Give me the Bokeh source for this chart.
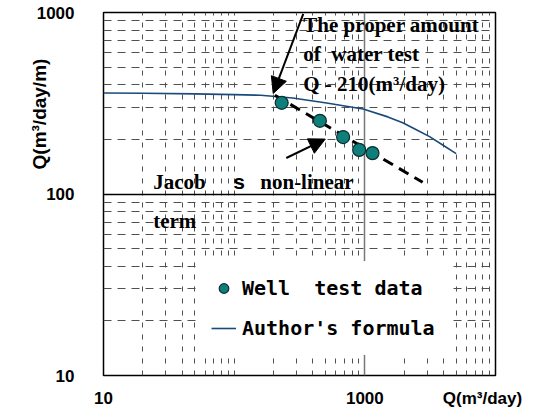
import math
from bokeh.plotting import figure
from bokeh.models import (FixedTicker, Grid, Label, Arrow, NormalHead, Legend,
                          LegendItem, NumeralTickFormatter, LogAxis)
from bokeh.embed import file_html
from bokeh.resources import INLINE

# ---- data ----
well_q = [231, 453, 682, 905, 1145]          # Q (m3/day)
well_sq = [318, 253, 206, 175, 168]          # Q/s (m3/day/m)
author_q = [10, 20, 50, 100, 160, 280, 510, 970, 1500, 1950, 2500, 3130, 4000, 5000]
author_sq = [360, 359, 356, 353, 350, 338, 317, 294, 266, 247, 225, 207, 185, 167]
jacob_q = [205, 2770]
jacob_sq = [350, 116]
x_tick_values = [10, 1000]
y_tick_values = [10, 100, 1000]
minor_x = [m * 10 ** e for e in (1, 2, 3) for m in range(2, 10)] + [100]
minor_y = [m * 10 ** e for e in (1, 2) for m in range(2, 10)]
x_title = "Q(m³/day)"
y_title = "Q(m³/day/m)"

p = figure(width=532, height=410, x_axis_type="log", y_axis_type="log",
           x_range=(10, 10000), y_range=(10, 1000),
           output_backend="svg", toolbar_location=None,
           min_border_left=103, min_border_right=37, min_border_top=12,
           min_border_bottom=33)
p.background_fill_color = "white"
p.border_fill_color = "white"
p.outline_line_color = "black"
p.outline_line_width = 1.5
p.outline_line_alpha = 1

# x axis: tick labels plus the axis title placed at the right end
x_title_pos = 7955
p.xaxis.ticker = FixedTicker(ticks=x_tick_values + [x_title_pos])
p.xaxis.major_label_overrides = {x_title_pos: x_title}
p.yaxis.ticker = FixedTicker(ticks=y_tick_values)

# y axis title: second left axis holding one rotated label near the top
y_title_pos = 557
ytitle_axis = LogAxis(ticker=FixedTicker(ticks=[y_title_pos]),
                      major_label_overrides={y_title_pos: y_title},
                      major_label_orientation=math.pi / 2)
p.add_layout(ytitle_axis, "left")

for ax in (p.xaxis[0], p.yaxis[0], ytitle_axis):
    ax.formatter = NumeralTickFormatter(format="0")
    ax.major_tick_out = 0
    ax.major_tick_in = 0
    ax.minor_tick_out = 0
    ax.minor_tick_in = 0
    ax.axis_line_color = None
    ax.major_label_text_font = "Liberation Sans"
    ax.major_label_text_font_style = "bold"
    ax.major_label_text_font_size = "17px"
    ax.major_label_text_color = "black"
ytitle_axis.major_label_text_font_size = "19px"
p.xaxis.major_label_standoff = 13
p.yaxis[0].major_label_standoff = 29
ytitle_axis.major_label_standoff = -6

# grids
p.xgrid.ticker = FixedTicker(ticks=minor_x)
p.xgrid.grid_line_color = "#505050"
p.xgrid.grid_line_dash = "5 7"
p.ygrid.ticker = FixedTicker(ticks=minor_y)
p.ygrid.grid_line_color = "#505050"
p.ygrid.grid_line_dash = "8 6"
p.add_layout(Grid(dimension=0, ticker=FixedTicker(ticks=[1000]),
                  grid_line_color="#777777", grid_line_width=1.5))
p.add_layout(Grid(dimension=1, ticker=FixedTicker(ticks=[100]),
                  grid_line_color="black", grid_line_width=1.3))

# glyphs
author_r = p.line(author_q, author_sq, line_color="#1a4a7a", line_width=1.6)
p.line(jacob_q, jacob_sq, line_color="black", line_width=3, line_dash="11 7")
well_r = p.scatter(well_q, well_sq, size=13, fill_color="#0f7f7c",
                   line_color="#0c2d2d", line_width=1.2)

legend = Legend(items=[LegendItem(label="Well\u00a0 test data", renderers=[well_r]),
                       LegendItem(label="Author's formula", renderers=[author_r])],
                location=(93, 20), padding=15, spacing=16, glyph_width=25,
                glyph_height=24, label_height=24, label_standoff=6,
                label_text_font="DejaVu Sans Mono", label_text_font_style="bold",
                label_text_font_size="20px", label_text_color="black",
                background_fill_color="white", background_fill_alpha=1,
                border_line_alpha=0, margin=0)
p.add_layout(legend)

# annotations
serif = dict(text_font="Liberation Serif", text_font_style="bold",
             text_font_size="21px", text_color="black", text_baseline="alphabetic")
p.add_layout(Label(x=338, y=856, text="The proper amount", **serif))
p.add_layout(Label(x=338, y=594, text="of\u00a0 water test", **serif))
p.add_layout(Label(x=338, y=406, text="Q - 210(m³/day)", **serif))
p.add_layout(Label(x=24.0, y=116.7, text="Jacob", **serif))
p.add_layout(Label(x=98.4, y=116.7, text="s", text_font="Liberation Sans",
                   text_font_style="bold", text_font_size="21px",
                   text_color="black", text_baseline="alphabetic"))
p.add_layout(Label(x=158.4, y=116.7, text="non-linear", **serif))
p.add_layout(Label(x=24.0, y=71.3, text="term", **serif))

p.add_layout(Arrow(end=NormalHead(size=16, fill_color="black", line_color="black"),
                   x_start=338, y_start=983, x_end=199, y_end=358,
                   line_width=2, line_color="black"))
p.add_layout(Arrow(end=NormalHead(size=16, fill_color="black", line_color="black"),
                   x_start=250.6, y_start=157.9, x_end=498, y_end=200.7,
                   line_width=2, line_color="black"))

open("out.html", "w").write(file_html(p, INLINE))
